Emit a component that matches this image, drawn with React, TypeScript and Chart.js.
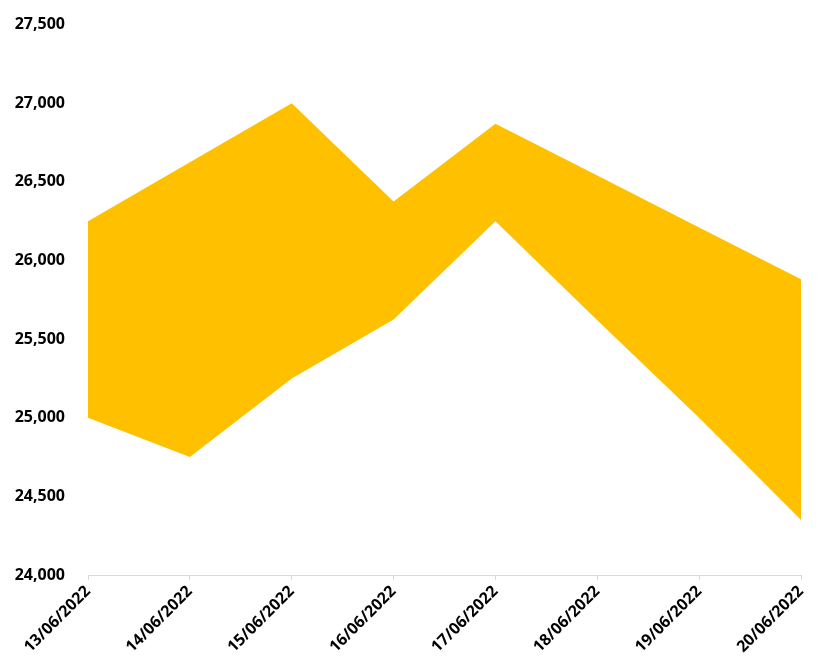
import React, { useEffect, useRef } from "react";
import { Chart, registerables } from "chart.js";

Chart.register(...registerables);

const categories = [
  "13/06/2022",
  "14/06/2022",
  "15/06/2022",
  "16/06/2022",
  "17/06/2022",
  "18/06/2022",
  "19/06/2022",
  "20/06/2022",
];
const lowValues = [25000, 24750, 25250, 25625, 26250, 25620, 25000, 24350];
const highValues = [26250, 26625, 27000, 26375, 26870, 26540, 26210, 25880];
const yTicks = { min: 24000, max: 27500, step: 500 };

export default function App() {
  const ref = useRef<HTMLCanvasElement | null>(null);
  useEffect(() => {
    document.body.style.margin = "0";
    const font = { family: "'Open Sans', 'Liberation Sans', Arial, sans-serif", size: 16, weight: "bold" as const };
    const chart = new Chart(ref.current!, {
      type: "line",
      data: {
        labels: categories,
        datasets: [
          {
            label: "Low",
            data: lowValues,
            borderWidth: 0,
            pointRadius: 0,
            fill: false,
            borderColor: "rgba(0,0,0,0)",
          },
          {
            label: "High",
            data: highValues,
            borderWidth: 0,
            pointRadius: 0,
            fill: "-1",
            borderColor: "rgba(0,0,0,0)",
            backgroundColor: "#FFC000",
          },
        ],
      },
      options: {
        animation: false,
        responsive: false,
        layout: { padding: { top: 7, right: 18, bottom: 0, left: 0 } },
        plugins: { legend: { display: false }, tooltip: { enabled: false } },
        scales: {
          x: {
            offset: false,
            grid: { display: true, drawOnChartArea: false, tickLength: 5, color: "#d9d9d9" },
            border: { display: true, color: "#d9d9d9", width: 1 },
            ticks: { font, color: "#000", maxRotation: 45, minRotation: 45, padding: 2 },
            afterFit: (s: any) => {
              s.height = 89;
            },
          },
          y: {
            min: yTicks.min,
            max: yTicks.max,
            grid: { display: false },
            border: { display: false },
            ticks: {
              stepSize: yTicks.step,
              font,
              color: "#000",
              padding: 15,
              callback: (v: any) => Number(v).toLocaleString("en-US"),
            },
            afterFit: (s: any) => {
              s.width = 88;
            },
          },
        },
      },
    });
    return () => chart.destroy();
  }, []);
  return <canvas ref={ref} width={819} height={664} style={{ display: "block" }} />;
}
